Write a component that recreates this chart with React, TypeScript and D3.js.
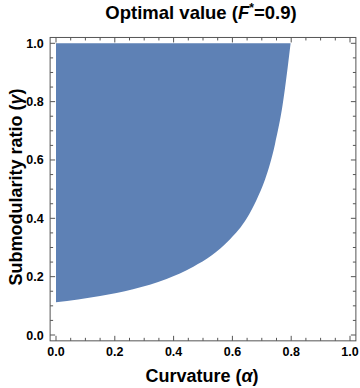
import React from "react";
import * as d3 from "d3";

// Lower boundary of the feasible region (curvature α, submodularity ratio γ)
const boundaryAlpha = [0, 0.15, 0.262, 0.376, 0.467, 0.53, 0.592, 0.649, 0.682, 0.711, 0.745, 0.771, 0.798];
const boundaryGamma = [0.112, 0.134, 0.157, 0.192, 0.234, 0.273, 0.328, 0.4, 0.463, 0.533, 0.655, 0.79, 1.0];
const regionTop = 1.0;
const majorTicks = [0, 0.2, 0.4, 0.6, 0.8, 1.0];
const minorTicks = d3.range(0, 1.0001, 0.05);
const titleText = "Optimal value (";
const xLabel = "Curvature (";
const yLabel = "Submodularity ratio (";

const W = 360;
const H = 388;

export default function App() {
  const x = d3.scaleLinear().domain([0, 1]).range([56, 350]);
  const y = d3.scaleLinear().domain([0, 1]).range([335, 43.3]);
  const fx0 = x(-0.02), fx1 = x(1.02), fy0 = y(-0.02), fy1 = y(1.02);

  const pts = boundaryAlpha.map((a, i) => ({ a, g: boundaryGamma[i] }));
  const area = d3
    .area<{ a: number; g: number }>()
    .x((d) => x(d.a))
    .y0((d) => y(d.g))
    .y1(() => y(regionTop))
    .curve(d3.curveMonotoneX);

  const font = "Liberation Sans, Arial, Helvetica, sans-serif";
  const tickColor = "#555";
  const major = 5;
  const minor = 3;

  const isMajor = (v: number) => majorTicks.some((m) => Math.abs(m - v) < 1e-6);

  return (
    <svg width={W} height={H} style={{ position: "absolute", left: 0, top: 0 }} fontFamily={font}>
      <rect x={0} y={0} width={W} height={H} fill="#fff" />
      <path d={area(pts) || ""} fill="#5E81B5" />
      <rect x={fx0} y={fy1} width={fx1 - fx0} height={fy0 - fy1} fill="none" stroke={tickColor} strokeWidth={1} />
      {minorTicks.map((v, i) => {
        const L = isMajor(v) ? major : minor;
        return (
          <g key={i} stroke={tickColor} strokeWidth={1}>
            <line x1={x(v)} x2={x(v)} y1={fy0} y2={fy0 - L} />
            <line x1={x(v)} x2={x(v)} y1={fy1} y2={fy1 + L} />
            <line y1={y(v)} y2={y(v)} x1={fx0} x2={fx0 + L} />
            <line y1={y(v)} y2={y(v)} x1={fx1} x2={fx1 - L} />
          </g>
        );
      })}
      {majorTicks.map((v, i) => (
        <g key={"l" + i} fontSize={12.5} fontWeight="bold" fill="#000">
          <text x={x(v)} y={356} textAnchor="middle">{v.toFixed(1)}</text>
          <text x={fx0 - 6.5} y={y(v) + 4.5} textAnchor="end">{v.toFixed(1)}</text>
        </g>
      ))}
      <text x={201} y={18.5} textAnchor="middle" fontSize={18.5} fontWeight="bold">
        {titleText}
        <tspan fontStyle="italic">F</tspan>
        <tspan fontSize={12} dy={-6.5}>*</tspan>
        <tspan dy={6.5}>=0.9)</tspan>
      </text>
      <text x={202} y={382} textAnchor="middle" fontSize={18} fontWeight="bold">
        {xLabel}
        <tspan fontStyle="italic">α</tspan>)
      </text>
      <text x={22} y={187} transform="rotate(-90, 22, 187)" textAnchor="middle" fontSize={18} fontWeight="bold">
        {yLabel}
        <tspan fontStyle="italic">γ</tspan>)
      </text>
    </svg>
  );
}
